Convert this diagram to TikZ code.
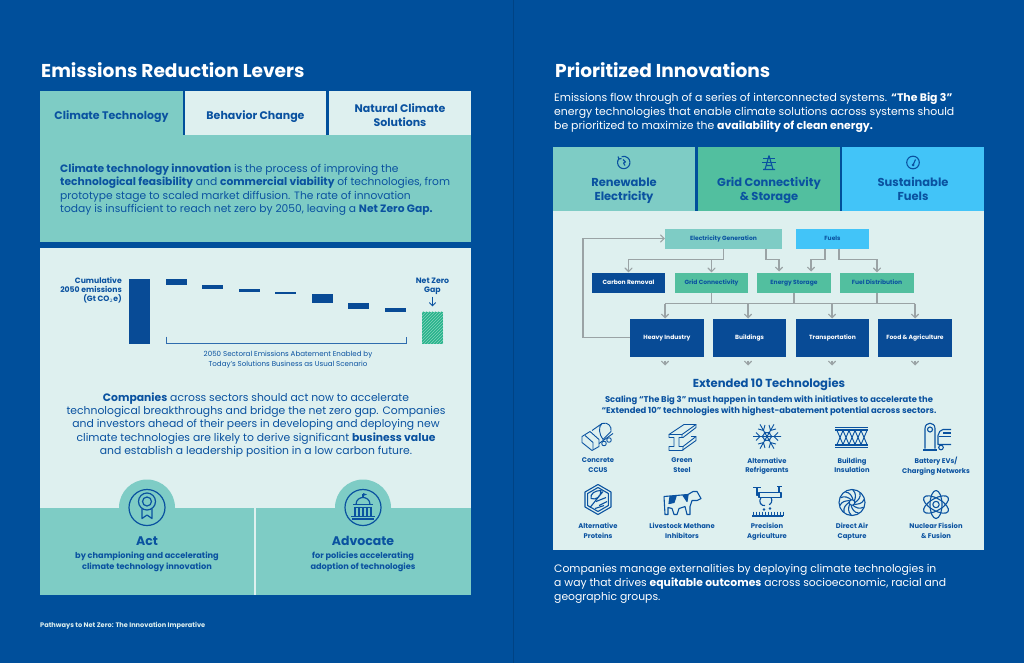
\documentclass[tikz,border=0pt]{standalone}
\usepackage{fontspec}
\setmainfont{Poppins}
\usepackage{xcolor}
\usetikzlibrary{arrows,patterns}
\definecolor{pagebg}{HTML}{004F9B}
\definecolor{tealbox}{HTML}{7ECCC5}
\definecolor{lightbox}{HTML}{DEF0EF}
\definecolor{greenbox}{HTML}{52BF9F}
\definecolor{hatchbox}{HTML}{27B48C}
\definecolor{skybox}{HTML}{42C4F8}
\definecolor{navybox}{HTML}{084B96}
\definecolor{inktext}{HTML}{0A52A0}
\definecolor{flowgray}{HTML}{9AA3A5}
\newcommand{\fsize}[2]{\fontsize{#1}{#2}\selectfont}
\newcommand{\evenline}{\vphantom{Ag}}
\tikzset{
	panel/.style={inner sep=0,text=inktext,align=center,execute at begin node=\evenline,execute at end node=\evenline},
	flowbox/.style={inner sep=0,text height=5.4,text depth=1.2,font=\fsize{6}{7}\bfseries},
	flow/.style={draw=flowgray,line width=1.1pt,>=angle 90,->},
	icon/.style={draw=inktext,line width=0.9pt,line join=round},
}
\begin{document}
\begin{tikzpicture}[x=1pt,y=-1pt]
		\fill[pagebg] (0,0) rectangle (1024,662);
		\draw[black!15!pagebg,line width=1pt] (513,0) -- (513,662);
		%
		\node[text=white,anchor=west,inner sep=0,font=\fsize{18.6}{20}\bfseries] (leftTitle) at (41,70) {Emissions Reduction Levers};
		\node[text=white,anchor=west,inner sep=0,font=\fsize{18.6}{20}\bfseries] (rightTitle) at (555,70) {Prioritized Innovations};
		%
		\node[panel,fill=tealbox,minimum width=143,minimum height=44] (climateBox) at (111.5,113) {};
		\node[panel,fill=lightbox,minimum width=141,minimum height=44] (behaviorBox) at (255.5,113) {};
		\node[panel,fill=lightbox,minimum width=142,minimum height=44] (naturalBox) at (400,113) {};
		\node[panel,font=\fsize{11}{13}\bfseries] (climate) at (111.5,116) {Climate Technology};
		\node[panel,font=\fsize{11}{13}\bfseries] (behavior) at (255.5,116) {Behavior Change};
		\node[panel,font=\fsize{11}{14}\bfseries] (natural) at (400,116) {Natural Climate\\Solutions};
		\node[panel,fill=tealbox,minimum width=431,minimum height=106] (leverBox) at (255.5,188) {};
		\node[panel,anchor=west,align=left,font=\fsize{10.7}{13.4}] (leverText) at (60,189) {\textbf{Climate technology innovation} is the process of improving the\\\textbf{technological feasibility} and \textbf{commercial viability} of technologies, from\\prototype stage to scaled market diffusion. The rate of innovation\\today is insufficient to reach net zero by 2050, leaving a \textbf{Net Zero Gap.}};
		\node[panel,fill=lightbox,minimum width=431,minimum height=260] (chartBox) at (255.5,377) {};
		%
		\node[panel,anchor=east,align=right,font=\fsize{7.7}{9.3}\bfseries] (cumulative) at (122,290) {Cumulative\\2050 emissions\\(Gt CO$_2$e)};
		\fill[navybox] (129,278) rectangle (150,343);
		\foreach \x/\ya/\yb in {166/278/284,202/284/288,239/288/291.5,275/291.5/293.5,312/293/302,348/302/308,385/307/311}
			\fill[navybox] (\x,\ya) rectangle (\x+21,\yb);
		\node[inner sep=0,minimum width=21,minimum height=32,preaction={fill=hatchbox},pattern=north east lines,pattern color=greenbox!70!white] (gap) at (432.5,327) {};
		\node[panel,font=\fsize{7.8}{9}\bfseries] (netZero) at (432.5,285.5) {Net Zero\\Gap};
		\path[->,>=angle 90,color=inktext,line width=0.8pt] ([yshift=-2]netZero.south) edge ([yshift=5]gap.north);
		\draw[inktext!85,line width=0.9pt] (166,336) |- (406,343) -- (406,336);
		\node[panel,font=\fsize{7.1}{9.6}] (sectoral) at (288,359.5) {2050 Sectoral Emissions Abatement Enabled by\\Today's Solutions Business as Usual Scenario};
		%
		\node[panel,font=\fsize{10.8}{13.3}] (companies) at (256,424.5) {\textbf{Companies} across sectors should act now to accelerate\\technological breakthroughs and bridge the net zero gap. Companies\\and investors ahead of their peers in developing and deploying new\\climate technologies are likely to derive significant \textbf{business value}\\and establish a leadership position in a low carbon future.};
		%
		\fill[tealbox] (40,507) rectangle (471,594);
		\fill[tealbox] (147,507) circle [radius=28];
		\fill[tealbox] (363,507) circle [radius=28];
		\draw[lightbox,line width=1.2pt] (255,507) -- (255,594);
		\node[panel,font=\fsize{12.5}{14}\bfseries] (act) at (147,542) {Act};
		\node[panel,font=\fsize{8.2}{11}\bfseries] (actText) at (147,561.5) {by championing and accelerating\\climate technology innovation};
		\node[panel,font=\fsize{12.5}{14}\bfseries] (advocate) at (363,542) {Advocate};
		\node[panel,font=\fsize{8.2}{11}\bfseries] (advocateText) at (363,561.5) {for policies accelerating\\adoption of technologies};
		\node[text=lightbox,anchor=west,inner sep=0,font=\fsize{6.6}{7}\bfseries] (footer) at (40,625) {Pathways to Net Zero: The Innovation Imperative};
		%
		\begin{scope}[shift={(147,507)},icon,line width=1.2pt]
			\draw (0,0) circle [radius=18];
			\draw (0,-6) circle [radius=8.5];
			\draw (0,-6) circle [radius=4.5];
			\draw (-5,1) -- (-5,11) -- (0,7.5) -- (5,11) -- (5,1);
		\end{scope}
		\begin{scope}[shift={(363,507)},icon,line width=1.2pt]
			\draw (0,0) circle [radius=18];
			\draw (-7,-3) .. controls (-7,-8) and (-3,-10) .. (0,-10) .. controls (3,-10) and (7,-8) .. (7,-3);
			\draw (-10,-3) -- (10,-3) (-9,0) -- (9,0) (-12,9) -- (12,9) (-11,11.5) -- (11,11.5);
			\foreach \x in {-8,-4,0,4,8}
				\draw (\x,0) -- (\x,9);
			\draw (0,-10) -- (0,-14);
			\fill[inktext] (0,-14.5) -- (4,-13) -- (0,-11.5) -- cycle;
		\end{scope}
		%
		\node[text=white,anchor=west,align=left,inner sep=0,font=\fsize{10.9}{14}] (intro) at (554,112) {Emissions flow through of a series of interconnected systems. \textbf{``The Big 3''}\\energy technologies that enable climate solutions across systems should\\be prioritized to maximize the \textbf{availability of clean energy.}};
		\node[panel,fill=tealbox,minimum width=142,minimum height=63] (renewBox) at (624,178.5) {};
		\node[panel,fill=greenbox,minimum width=142,minimum height=63] (gridBox) at (769,178.5) {};
		\node[panel,fill=skybox,minimum width=142,minimum height=63] (fuelBox) at (913,178.5) {};
		\node[panel,font=\fsize{11.5}{14}\bfseries] (renewText) at (624,190) {Renewable\\Electricity};
		\node[panel,font=\fsize{11.5}{14}\bfseries] (gridText) at (769,190) {Grid Connectivity\\\& Storage};
		\node[panel,font=\fsize{11.5}{14}\bfseries] (fuelText) at (913,190) {Sustainable\\Fuels};
		\node[panel,fill=lightbox,minimum width=431,minimum height=339] (flowPanel) at (768.5,379.5) {};
		%
		\begin{scope}[shift={(624,162)},icon,line width=1.1pt]
			\draw (-5,-4) arc (220:-110:6.2);
			\draw (-6,-6) -- (-5,-3.5) -- (-2.5,-4);
			\draw (-1,-3) -- (1.5,-0.5) -- (-0.5,0.5) -- (1,3);
		\end{scope}
		\begin{scope}[shift={(769,162)},icon,line width=1.1pt]
			\draw (-6,-4) -- (6,-4) (-7,0) -- (7,0);
			\draw (0,-7) -- (-4,7) (0,-7) -- (4,7) (-6,7) -- (6,7) (-3,3) -- (3,3);
		\end{scope}
		\begin{scope}[shift={(913,162)},icon,line width=1.1pt]
			\draw (0,0) circle [radius=6.3];
			\draw (0,2.5) -- (2.5,-3);
			\fill[inktext] (0,2.5) circle [radius=1.5];
		\end{scope}
		%
		\node[flowbox,fill=tealbox,text=inktext,minimum width=117,minimum height=20] (elec) at (723.5,238) {Electricity Generation};
		\node[flowbox,fill=skybox,text=inktext,minimum width=73,minimum height=20] (fuels) at (832.5,238) {Fuels};
		\node[flowbox,fill=navybox,text=white,minimum width=73,minimum height=20] (carbon) at (628.5,282) {Carbon Removal};
		\node[flowbox,fill=greenbox,text=inktext,minimum width=73,minimum height=20] (gridC) at (711.5,282) {Grid Connectivity};
		\node[flowbox,fill=greenbox,text=inktext,minimum width=74,minimum height=20] (storage) at (794,282) {Energy Storage};
		\node[flowbox,fill=greenbox,text=inktext,minimum width=74,minimum height=20] (fuelDist) at (877,282) {Fuel Distribution};
		\node[flowbox,fill=navybox,text=white,minimum width=74,minimum height=38] (heavy) at (667,337) {Heavy Industry};
		\node[flowbox,fill=navybox,text=white,minimum width=73,minimum height=38] (buildings) at (749.5,337) {Buildings};
		\node[flowbox,fill=navybox,text=white,minimum width=73,minimum height=38] (transport) at (832.5,337) {Transportation};
		\node[flowbox,fill=navybox,text=white,minimum width=74,minimum height=38] (food) at (915,337) {Food \& Agriculture};
		%
		\coordinate (elecA) at (766,248);
		\coordinate (fuelsA) at (825,248);
		\coordinate (fuelsB) at (839,248);
		\coordinate (storageIn) at (779,271);
		\coordinate (storageInB) at (811,271);
		\coordinate (busL) at (665,303);
		\coordinate (busR) at (915,303);
		\draw[flow] (elec.south) -- (723.5,259) -| (carbon.north);
		\draw[flow] (elec.south) -- (723.5,259) -| (gridC.north);
		\draw[flow] (elecA) |- (779,259) -- (storageIn);
		\draw[flow] (fuelsA) |- (811,259) -- (storageInB);
		\draw[flow] (fuelsB) |- (877,259) -- (fuelDist.north);
		\draw[flow,-] (gridC.south) -- (gridC.south |- busL);
		\draw[flow,-] (storage.south) -- (storage.south |- busL);
		\draw[flow,-] (fuelDist.south) -- (fuelDist.south |- busL);
		\draw[flow,-] (busL) -- (busR);
		\foreach \x/\tgt in {665/heavy,748/buildings,832/transport,915/food}{
			\draw[flow] (\x,303) -- (\x,318);
			\coordinate (\tgt Out) at (\x,365);
			\draw[flow] (\x,360) -- (\tgt Out);
		}
		\draw[flow] (heavy.west) -- (583,337) |- (elec.west);
		%
		\node[panel,font=\fsize{11.6}{14}\bfseries] (extended) at (769,384) {Extended 10 Technologies};
		\node[panel,font=\fsize{8.4}{11}\bfseries] (scaling) at (769,405.5) {Scaling ``The Big 3'' must happen in tandem with initiatives to accelerate the\\``Extended 10'' technologies with highest-abatement potential across sectors.};
		\foreach \x/\y/\name/\lab in {598/465.5/ccus/{Concrete\\CCUS},682/465.5/steel/{Green\\Steel},767/465.5/refrig/{Alternative\\Refrigerants},852/465.5/insul/{Building\\Insulation},936/465.5/ev/{Battery EVs/\\Charging Networks},598/531/protein/{Alternative\\Proteins},682/531/methane/{Livestock Methane\\Inhibitors},767/531/agri/{Precision\\Agriculture},852/531/capture/{Direct Air\\Capture},936/531/nuclear/{Nuclear Fission\\\& Fusion}}
			\node[panel,font=\fsize{6.8}{9.5}\bfseries] (\name) at (\x,\y) {\lab};
		%
		\begin{scope}[shift={(598,436)},icon]
			\draw (-16,0) -- (-8,-5) -- (1,3) -- (1,10) -- (-6,14) -- (-16,6) -- cycle;
			\draw (-13,-1) -- (-5,6) -- (-5,13);
			\draw (-6,-6) -- (4,-13) .. controls (10,-15) and (14,-10) .. (13,-5) -- (5,3);
			\draw (4,-13) .. controls (0,-10) and (1,-2) .. (5,3);
			\draw (1,7) -- (15,-3);
			\draw (6,7) circle [radius=2.3];
			\draw (11,3.5) circle [radius=2.3];
		\end{scope}
		\begin{scope}[shift={(682,437)},icon]
			\draw (-13,-3) -- (2,-13) -- (14,-13) -- (0,-3) -- cycle;
			\draw (-13,-3) -- (-13,0) -- (-8,0) -- (-8,9) -- (-13,9) -- (-13,13) -- (0,13) -- (14,3) -- (14,-1) -- (9,-1);
			\draw (14,-13) -- (14,-10) -- (1,0) -- (-3,0) -- (-3,9) -- (1,9) -- (1,13);
			\draw (0,-3) -- (0,0) (1,9) -- (14,-1);
		\end{scope}
		\begin{scope}[shift={(767,436)},icon]
			\foreach \a in {0,60,...,300}
				\draw[rotate=\a] (0,0) -- (14,0) (7,0) -- (11,-4) (7,0) -- (11,4) (3,-2) -- (5,0) -- (3,2);
		\end{scope}
		\begin{scope}[shift={(852,437)},icon]
			\draw[line width=1.3pt] (-17,-10) -- (16,-10) (-17,-7.5) -- (16,-7.5) (-17,7.5) -- (16,7.5) (-17,10) -- (16,10);
			\draw (-15,-7) -- (-9,7) -- (-3,-7) -- (3,7) -- (9,-7) -- (15,7);
			\draw (-15,7) -- (-9,-7) -- (-3,7) -- (3,-7) -- (9,7) -- (15,-7);
		\end{scope}
		\begin{scope}[shift={(936,436)},icon,line width=1.1pt]
			\draw (-11,12) -- (-11,-8) .. controls (-11,-15) and (-1,-15) .. (-1,-8) -- (-1,12);
			\draw (-13,13.5) -- (1,13.5);
			\draw (-6,-7) circle [radius=2.5];
			\draw (15,-7) -- (7,-7) .. controls (4,-7) and (3,-4) .. (2,-1) -- (2,8) -- (15,8);
			\draw (3,0) -- (15,0) (7,-3.5) -- (15,-3.5);
			\draw (5,11) circle [radius=2.3];
		\end{scope}
		%
		\begin{scope}[shift={(598,499)},icon,line width=1.1pt]
			\draw (90:15) -- (30:15) -- (-30:15) -- (-90:15) -- (-150:15) -- (150:15) -- cycle;
			\draw (90:12) -- (30:12) -- (-30:12) -- (-90:12) -- (-150:12) -- (150:12) -- cycle;
			\draw (-8,8) -- (5,-8) (-7,-1) .. controls (-8,-6) and (-3,-9) .. (3,-9) .. controls (3,-3) and (-2,1) .. (-7,-1);
			\draw (-2,2) -- (8,-2) (1,6) -- (9,2) (-3,9) -- (6,6);
		\end{scope}
		\begin{scope}[shift={(682,503)},icon,line width=1.1pt]
			\draw (-18,-7) -- (6,-9) -- (11,-12) -- (15,-12) -- (19,-5) -- (15,-3) -- (10,-3) -- (8,3) -- (8,11) -- (5,11) -- (3,3) -- (-3,5) -- (-5,11) -- (-8,11) -- (-10,5) -- (-14,4) -- (-14,11) -- (-17,11) -- (-18,-7);
			\draw[fill=inktext] (-12,-7) -- (-6,-7) -- (-8,-1) -- (-13,0) -- cycle;
			\draw[fill=inktext] (1,-8) -- (6,-8) -- (5,-2) -- cycle;
		\end{scope}
		\begin{scope}[shift={(767,500)},icon,line width=1.1pt]
			\draw (-8,-8) rectangle (14,-3);
			\draw (-14,-13) -- (-6,-13) (-10,-13) -- (-10,-5) -- (-8,-5) (10,-14) -- (15,-14) (12,-14) -- (12,-8);
			\draw (-6,-3) .. controls (-9,1) and (-6,6) .. (-2,5) (4,-3) .. controls (6,0) and (4,4) .. (2,4);
			\fill[inktext] (-3,9) circle [radius=1.3];
			\fill[inktext] (3,8) circle [radius=1.3];
			\foreach \x in {-14,-11,...,16}
				\draw[line width=0.7pt] (\x,11) -- (\x,15);
			\draw (-15,15.5) -- (16,15.5);
		\end{scope}
		\begin{scope}[shift={(852,502)},icon,line width=1.1pt]
			\draw (0,0) circle [radius=13];
			\draw (0,0) circle [radius=2.8];
			\foreach \a in {0,36,...,324}
				\draw[rotate=\a] (3,0) .. controls (6,-2) and (9,-5) .. (8,-9.5);
		\end{scope}
		\begin{scope}[shift={(936,504)},icon,line width=1.1pt]
			\foreach \a in {30,90,150}
				\draw[rotate=\a] (0,0) ellipse [x radius=14,y radius=6];
			\draw (0,0) circle [radius=3.2];
		\end{scope}
		%
		\node[text=white,anchor=west,align=left,inner sep=0,font=\fsize{10.8}{14}] (outro) at (554,583) {Companies manage externalities by deploying climate technologies in\\a way that drives \textbf{equitable outcomes} across socioeconomic, racial and\\geographic groups.};
		\end{tikzpicture}
\end{document}
